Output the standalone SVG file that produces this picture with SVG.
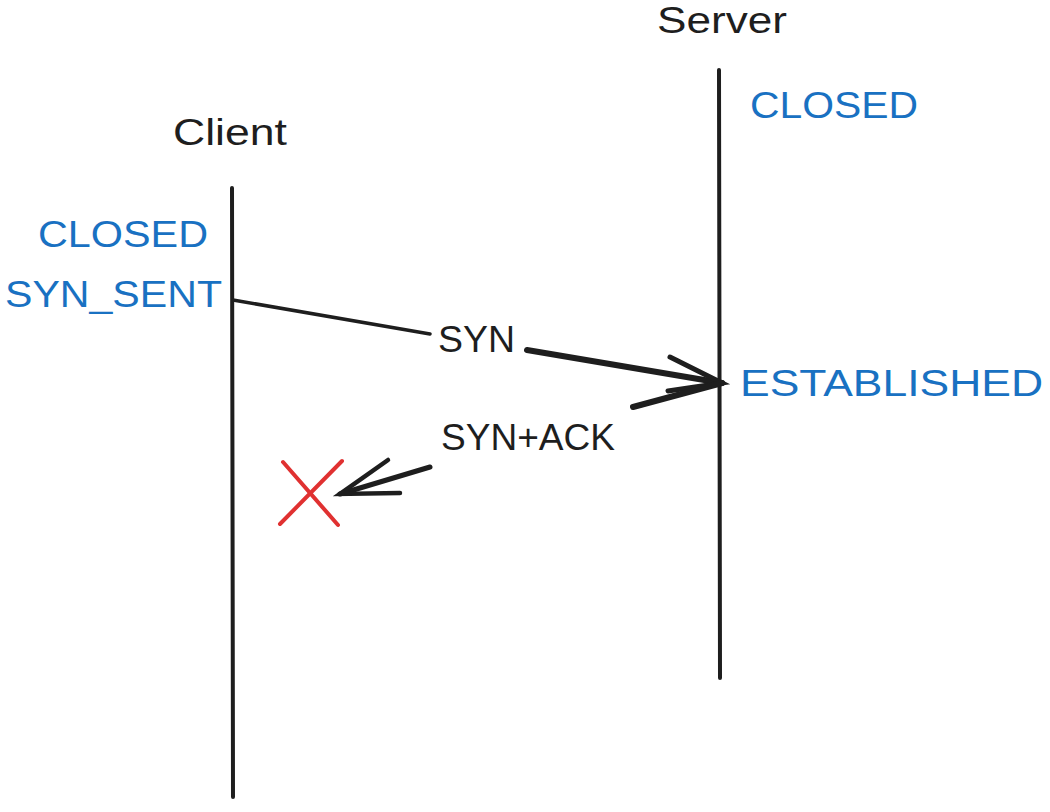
<svg xmlns="http://www.w3.org/2000/svg" width="1050" height="812" viewBox="0 0 1050 812">
<style>
.t{font-family:"Liberation Sans",Arial,sans-serif;font-size:36px;fill:#1e1e1e}
.b{fill:#1971c2}
.ln{stroke:#1e1e1e;stroke-width:4;stroke-linecap:round;fill:none}
.x{stroke:#e03131;stroke-width:4;stroke-linecap:round;fill:none}
</style>
<rect width="1050" height="812" fill="#ffffff"/>
<g id="client">
<text class="t" x="173" y="145" textLength="114" lengthAdjust="spacingAndGlyphs">Client</text>
<line class="ln" x1="232" y1="188" x2="233" y2="797"/>
<text class="t b" x="38" y="247" textLength="170" lengthAdjust="spacingAndGlyphs">CLOSED</text>
<text class="t b" x="5" y="307" textLength="217" lengthAdjust="spacingAndGlyphs">SYN_SENT</text>
</g>
<g id="server">
<text class="t" x="657" y="33" textLength="130" lengthAdjust="spacingAndGlyphs">Server</text>
<line class="ln" x1="719" y1="70" x2="720" y2="678"/>
<text class="t b" x="750" y="118" textLength="168" lengthAdjust="spacingAndGlyphs">CLOSED</text>
<text class="t b" x="740" y="396" textLength="303" lengthAdjust="spacingAndGlyphs">ESTABLISHED</text>
</g>
<g id="lost">
<line class="x" x1="283" y1="462" x2="338" y2="525"/>
<line class="x" x1="342" y1="461" x2="280" y2="524"/>
</g>
<g id="connectors">
<line class="ln" x1="233" y1="300" x2="430" y2="334" style="stroke-width:3.5"/>
<line class="ln" x1="527" y1="350" x2="722" y2="383" style="stroke-width:6"/>
<polyline class="ln" points="670,357 722,383 668,391" style="stroke-width:5"/>
<line class="ln" x1="722" y1="383" x2="633" y2="407" style="stroke-width:6"/>
<line class="ln" x1="430" y1="467" x2="340" y2="494" style="stroke-width:5"/>
<polyline class="ln" points="388,460 340,494 400,493" style="stroke-width:4.5"/>
<text class="t" x="438" y="352" textLength="77" lengthAdjust="spacingAndGlyphs">SYN</text>
<text class="t" x="441" y="450" textLength="174" lengthAdjust="spacingAndGlyphs">SYN+ACK</text>
</g>
</svg>
